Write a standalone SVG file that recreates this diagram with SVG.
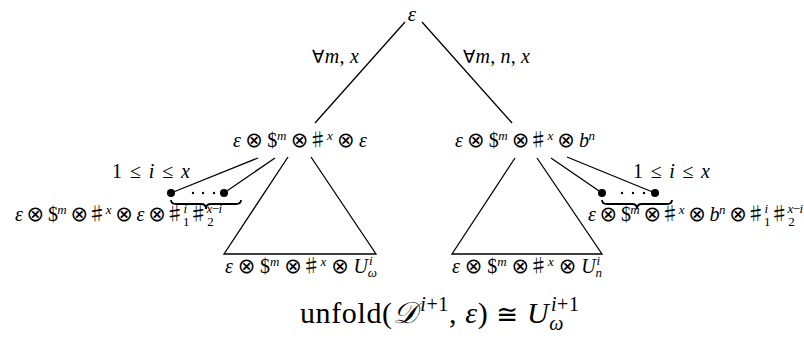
<svg xmlns="http://www.w3.org/2000/svg" width="804" height="343" viewBox="0 0 804 343">
<style>
text { font-family: "Liberation Serif", "DejaVu Serif", serif; font-size: 20px; fill: #000; }
.i { font-style: italic; }
.s { font-size: 13px; }
.o { font-family: "DejaVu Sans", sans-serif; font-size: 21px; font-weight: normal; }
.sh { font-family: "Noto Sans CJK JP", "Noto Sans CJK SC", sans-serif; font-size: 19px; font-weight: normal; }
.big { font-size: 30px; }
.bs { font-size: 20px; }
.ln { stroke: #000; stroke-width: 1.3; fill: none; }
.br { stroke: #000; stroke-width: 1.8; fill: none; }
.dot { fill: #000; }
</style>
<rect width="804" height="343" fill="#fff"/>
<g id="connectors">
  <path class="ln" d="M405,22 L315,123"/>
  <path class="ln" d="M422,22 L512,123"/>
  <path class="ln" d="M258,158 L171,193"/>
  <path class="ln" d="M275,158 L224,193"/>
  <path class="ln" d="M551,158 L602,193"/>
  <path class="ln" d="M567,157 L655,193"/>
</g>
<g id="root">
  <text x="412" y="21" text-anchor="middle" class="i" style="font-size:21px">ε</text>
</g>
<g id="label-left">
  <text x="312" y="63" textLength="47"><tspan class="o" style="font-size:18px">∀</tspan><tspan class="i">m</tspan>, <tspan class="i">x</tspan></text>
</g>
<g id="label-right">
  <text x="463" y="63" textLength="67"><tspan class="o" style="font-size:18px">∀</tspan><tspan class="i">m</tspan>, <tspan class="i">n</tspan>, <tspan class="i">x</tspan></text>
</g>
<g id="node-left">
  <text x="233" y="147" textLength="134"><tspan class="i">ε</tspan> <tspan class="o">⊗</tspan> $<tspan class="s i" dy="-7">m</tspan><tspan dy="7"> </tspan><tspan class="o">⊗</tspan><tspan class="sh">♯</tspan><tspan class="s i" dy="-7">x</tspan><tspan dy="7"> </tspan><tspan class="o">⊗</tspan> <tspan class="i">ε</tspan></text>
</g>
<g id="node-right">
  <text x="455" y="147" textLength="140"><tspan class="i">ε</tspan> <tspan class="o">⊗</tspan> $<tspan class="s i" dy="-7">m</tspan><tspan dy="7"> </tspan><tspan class="o">⊗</tspan><tspan class="sh">♯</tspan><tspan class="s i" dy="-7">x</tspan><tspan dy="7"> </tspan><tspan class="o">⊗</tspan> <tspan class="i">b</tspan><tspan class="s i" dy="-7">n</tspan></text>
</g>
<g id="subtree-left">
  <path class="ln" d="M288,157 L224,254 L376,254 L311,157"/>
  <text x="225" y="273" textLength="152"><tspan class="i">ε</tspan> <tspan class="o">⊗</tspan> $<tspan class="s i" dy="-7">m</tspan><tspan dy="7"> </tspan><tspan class="o">⊗</tspan><tspan class="sh">♯</tspan><tspan class="s i" dy="-7">x</tspan><tspan dy="7"> </tspan><tspan class="o">⊗</tspan> <tspan class="i">U</tspan><tspan class="s i" dy="-8" dx="1">i</tspan><tspan class="s i" dx="-4.6" dy="12">ω</tspan></text>
</g>
<g id="subtree-right">
  <path class="ln" d="M515,158 L452,254 L602,254 L537,158"/>
  <text x="452" y="273" textLength="150"><tspan class="i">ε</tspan> <tspan class="o">⊗</tspan> $<tspan class="s i" dy="-7">m</tspan><tspan dy="7"> </tspan><tspan class="o">⊗</tspan><tspan class="sh">♯</tspan><tspan class="s i" dy="-7">x</tspan><tspan dy="7"> </tspan><tspan class="o">⊗</tspan> <tspan class="i">U</tspan><tspan class="s i" dy="-8" dx="1">i</tspan><tspan class="s i" dx="-4.6" dy="12">n</tspan></text>
</g>
<g id="choice-left">
  <text x="112" y="178" textLength="78">1 ≤ <tspan class="i">i</tspan> ≤ <tspan class="i">x</tspan></text>
  <circle class="dot" cx="171" cy="193" r="4"/>
  <circle class="dot" cx="224" cy="193" r="4"/>
  <circle class="dot" cx="193" cy="193" r="1.2"/>
  <circle class="dot" cx="203" cy="193" r="1.2"/>
  <circle class="dot" cx="214" cy="193" r="1.2"/>
  <path class="br" d="M171,200 q0,4 5,4 L201,204 q5,0 5,5 q0,-5 5,-5 L236,204 q5,0 5,-4"/>
  <text x="15" y="221" textLength="207"><tspan class="i">ε</tspan> <tspan class="o">⊗</tspan> $<tspan class="s i" dy="-7">m</tspan><tspan dy="7"> </tspan><tspan class="o">⊗</tspan><tspan class="sh">♯</tspan><tspan class="s i" dy="-7">x</tspan><tspan dy="7"> </tspan><tspan class="o">⊗</tspan> <tspan class="i">ε</tspan> <tspan class="o">⊗</tspan><tspan class="sh">♯</tspan><tspan class="s i" dy="-8">i</tspan><tspan class="s" dx="-3.6" dy="13">1</tspan><tspan class="sh" dy="-5">♯</tspan><tspan class="s" dy="5">2</tspan><tspan class="s i" dx="-6.5" dy="-13">x</tspan><tspan class="s">−</tspan><tspan class="s i">i</tspan></text>
</g>
<g id="choice-right">
  <text x="633" y="178" textLength="77">1 ≤ <tspan class="i">i</tspan> ≤ <tspan class="i">x</tspan></text>
  <circle class="dot" cx="602" cy="193" r="4"/>
  <circle class="dot" cx="655" cy="193" r="4"/>
  <circle class="dot" cx="622" cy="193" r="1.2"/>
  <circle class="dot" cx="633" cy="193" r="1.2"/>
  <circle class="dot" cx="644" cy="193" r="1.2"/>
  <path class="br" d="M602,200 q0,4 5,4 L632,204 q5,0 5,5 q0,-5 5,-5 L667,204 q5,0 5,-4"/>
  <text x="588" y="221" textLength="215"><tspan class="i">ε</tspan> <tspan class="o">⊗</tspan> $<tspan class="s i" dy="-7">m</tspan><tspan dy="7"> </tspan><tspan class="o">⊗</tspan><tspan class="sh">♯</tspan><tspan class="s i" dy="-7">x</tspan><tspan dy="7"> </tspan><tspan class="o">⊗</tspan> <tspan class="i">b</tspan><tspan class="s i" dy="-7">n</tspan><tspan dy="7"> </tspan><tspan class="o">⊗</tspan><tspan class="sh">♯</tspan><tspan class="s i" dy="-8">i</tspan><tspan class="s" dx="-3.6" dy="13">1</tspan><tspan class="sh" dy="-5">♯</tspan><tspan class="s" dy="5">2</tspan><tspan class="s i" dx="-6.5" dy="-13">x</tspan><tspan class="s">−</tspan><tspan class="s i">i</tspan></text>
</g>
<g id="formula">
  <text x="300" y="323" class="big" textLength="279">unfold(<tspan class="i">𝒟</tspan><tspan class="bs" dx="3" dy="-12"><tspan class="i">i</tspan>+1</tspan><tspan dy="12">, </tspan><tspan class="i">ε</tspan>) <tspan class="o" style="font-size:26px">≅</tspan> <tspan class="i">U</tspan><tspan class="bs i" dy="7">ω</tspan><tspan class="bs" dx="-13" dy="-19"><tspan class="i">i</tspan>+1</tspan></text>
</g>
</svg>
